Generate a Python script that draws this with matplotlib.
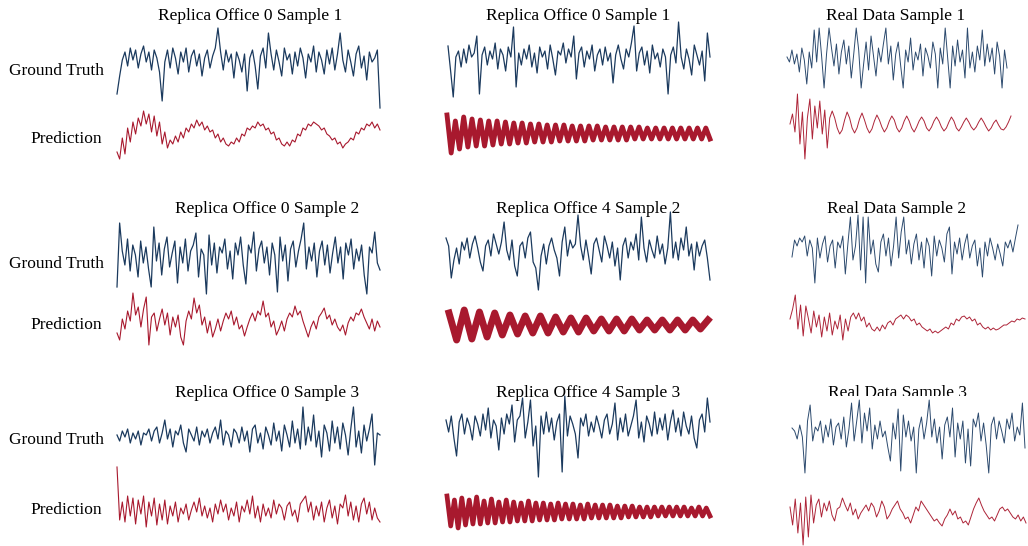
"""
Ground truth vs. predicted waveforms for replica office and real recordings.
"""
import matplotlib
matplotlib.use('Agg')
import matplotlib.pyplot as plt

c_strFont = 'Liberation Serif'
c_strTruthColor = '#1b3a5e'
c_strPredColor = '#a8192e'

lstTitles = [['Replica Office 0 Sample 1', 'Replica Office 0 Sample 1', 'Real Data Sample 1'],
             ['Replica Office 0 Sample 2', 'Replica Office 4 Sample 2', 'Real Data Sample 2'],
             ['Replica Office 0 Sample 3', 'Replica Office 4 Sample 3', 'Real Data Sample 3']]
lstRowLabels = ['Ground Truth', 'Prediction']

# signal values, one list per trace (row 1..3, column 1..3)
lstTruth11 = [-30, -12, 4, 12, -2, 16, 4, 14, -4, 10, 18, 2, 12, -6, 14, 6, -8, -37, 2, 14, -4, 16, 6, -10, 12,
              2, 16, -8, 8, 14, -2, 10, -12, 6, 14, -4, 8, 16, 36, 12, -6, 14, 2, 10, -14, 12, 4, -8, 10, -27,
              6, 14, -2, -25, 8, 16, -4, 31, 10, -6, 14, 2, -12, 16, 4, 10, -10, 12, -2, 16, 6, -14, 10, 2, 18,
              -8, 12, 4, -10, 14, 0, 16, -6, 10, 31, 4, -8, 14, 2, -12, 10, 18, -4, 8, -16, 12, 2, 6, 14, -44]
lstPred11 = [-18, -25, -4, -20, 6, -8, 12, 0, 16, 8, 23, 10, 20, 2, 18, -2, 12, -10, 2, -14, -6, -10, -2, -8, 2,
             -4, 6, 2, 10, 6, 14, 8, 12, 4, 8, 2, 4, -4, 0, -8, -4, -10, -12, -8, -10, -4, -8, 0, -2, 6,
             4, 8, 6, 12, 8, 10, 4, 6, 0, 2, -6, -4, -10, -12, -8, -12, -6, -8, 0, -2, 6, 4, 10, 8, 12,
             10, 8, 4, 6, 0, -2, -6, -4, -10, -8, -14, -10, -8, -4, -6, 2, 0, 6, 4, 10, 8, 12, 6, 10, 4]
lstTruth12 = [15, -10, -36, 4, 10, -6, 12, -2, 16, 4, 8, 25, -33, 6, 14, -4, 10, 2, 18, -8, 12, 6, -10, 14, 4,
              34, -26, 8, -4, 12, 2, 16, -6, 8, -12, 14, 4, 10, -8, 16, 2, -14, 10, 6, 18, -2, 12, 4, 25, -18,
              8, 14, -6, 10, 2, 16, -10, 6, 12, -4, 14, 0, 8, -22, 6, 16, 2, -8, 12, 4, 18, 35, -10, 8, 14,
              -4, 10, -12, 16, 2, 8, -6, 12, 4, -33, 6, 14, -2, 39, 4, -8, 12, 2, -14, 16, 6, -4, 10, -20, 28, 4]
lstPred12 = [19, -19, 13, -15, 17, -13, 15, -12, 14, -12, 13, -11, 13, -10, 12, -10, 11, -9, 11, -9, 10, -8,
             10, -8, 9, -8, 9, -7, 9, -7, 8, -7, 8, -7, 8, -6, 8, -6, 7, -6, 7, -6, 7, -6, 7, -5, 7, -5,
             6, -5, 6, -5, 6, -5, 6, -5, 6, -5, 6, -5, 6, -5, 6, -5]
lstTruth13 = [1, -4, 8, -6, 4, -14, 10, -2, -26, 6, -10, 28, -4, 30, 2, -30, 4, 30, 10, -8, 14, -16, 6, 18, -6,
              12, -20, 4, 30, 8, -30, -6, 16, -12, 22, 2, -18, 10, -4, 14, 30, -6, 12, -22, 4, 16, -8, -30, 8,
              -4, 20, -12, 6, -2, 14, -18, 10, 2, -10, 16, 4, -30, 10, -6, 30, 0, -30, 12, -8, 18, -4, 8, -20,
              30, -10, 6, -14, 12, -2, 28, -8, 14, -4, 10, -16, 16, 2, -30, 8, -10]
lstPred13 = [0, 10, -8, 30, -20, 12, -35, 6, 25, -15, 18, -4, 23, -10, 14, -24, 6,
             13, 6, -4, -10, -6, 4, 12, 6, -4, -9, -4, 5, 11, 4, -4, -9, -5, 3, 9, 4, -3, -8, -4, 3,
             8, 4, -4, -8, -4, 3, 8, 3, -4, -8, -3, 3, 7, 3, -4, -7, -3, 3, 7, 3, -3, -7, -4, 2,
             7, 3, -4, -7, -3, 2, 6, 2, -3, -6, -3, 2, 6, 2, -3, -7, -4, 1, 4, -1, -5, -6, -3, 2, 8]

lstTruth21 = [-30, 34, 6, -8, 18, -14, 12, 2, -20, 16, -6, 10, -12, -30, 30, -4, 14, -18, 8, 20, -10, 4, 16, -26,
              10, -6, 18, -14, 6, 12, 24, -20, 8, 2, -37, 22, -8, 14, -16, 10, 4, 18, -12, 6, -22, 14, 2, 20, -8,
              -27, 12, 4, 25, -14, 8, 16, -6, 10, -18, 14, 2, -35, 20, -4, 12, -24, 8, 16, -10, 6, 18, 34, -12,
              10, -4, 14, -20, 6, 16, -8, 12, -16, 4, 20, -6, 10, -22, 14, 2, 18, -12, 8, -4, 12, -18, -37, 10,
              4, 25, -6, -13]
lstPred21 = [-10, -17, 4, -6, 12, 2, 30, 8, 16, -4, 14, 26, -22, 6, 10, -8, 4, 14, -2, 10, -12, 6, -4, 8, -14,
             -22, 2, 12, 4, 25, 10, 18, -2, 6, -10, 2, -14, -6, 4, -8, 2, 10, 4, 12, -2, 6, -6, -2, -13, -4,
             4, 10, 2, 12, 8, 22, 6, 10, -4, 2, -12, -6, 2, -8, 4, 10, 6, 17, 8, 12, 2, -6, -14, -4, 2,
             -6, 6, 10, 15, 4, 8, -2, 4, -4, -8, -2, -12, 0, 6, 2, 10, 8, 14, 6, 0, -6, 4, -8, 2, -4]
lstTruth22 = [14, 6, -26, -8, 4, -12, 10, 2, 14, -6, 8, 16, 4, -10, -19, 6, 12, -4, 18, 8, -2, 10, 30, 2, -8,
              12, -14, -24, 6, 10, -6, 14, 20, -10, -16, -38, -4, 8, -12, 6, 14, 2, -6, -24, 10, 25, -4, 12, 4,
              8, 37, 6, -8, 12, -4, -22, 8, 14, 2, -10, 16, 6, -6, 10, -14, 4, -28, 6, 14, -6, 10, 2, 18, -8,
              35, 4, -10, 12, 2, -6, 16, -2, 8, -12, 4, 40, -6, 10, -8, 14, 2, 25, -4, 8, -18, 10, -4, 6, 12,
              -6, -28]
lstPred22 = [12, -15, 15, -14, 13, -12, 12, -10, 10, -9, 9, -8, 9, -8, 8, -7, 7, -7, 7, -6, 6, -6, 6,
             -6, 6, -5, 5, -5, 5, -5, 5, -5, 5, -4, 5]
lstTruth23 = [-7, 10, 4, 12, 8, 14, -6, 10, 2, -33, 12, -8, 6, 14, -12, 4, 10, -18, 8, 2, 14, -24, 6, 33, -10,
              4, 35, -20, 33, -33, 33, -4, 10, -14, -22, 8, 16, -6, 12, -16, 4, 33, -8, 18, 33, -4, 10, -14, 6,
              16, -10, 8, -18, 12, 4, -26, 14, -6, 10, 2, -12, 16, 23, -24, 8, -4, 12, -10, 6, 16, -8, 4, 10,
              -16, 2, -27, 8, -6, 12, 2, -10, 6, -4, -16, 8, 2, 10, -2, 12, 25]
lstPred23 = [4, 14, 28, -6, 18, -13, 17, 4, -10, 12, -4, 8, -14, 6, -8, 10, -12, 2, -6, 8, -17, 4, -8, 6, 10,
             4, 10, 2, 6, -4, 0, -6, -8, -4, -8, -2, -6, 0, 2, -2, 4, 6, 8, 4, 8, 6, 2, 4, -2, 0,
             -4, -6, -8, -6, -10, -8, -10, -8, -6, -4, -6, 0, -2, 4, 2, 6, 7, 4, 6, 2, 4, -2, 0, -4, -6,
             -4, -7, -5, -7, -6, -4, -2, -2, 0, 2, 1, 4, 3, 5, 4]

lstTruth31 = [2, -4, 6, 0, 8, -6, 4, -2, 6, -8, 4, 2, 8, -4, 6, 10, -6, 4, 17, -2, 8, -10, 6, 2, 12, -6, -15, 8,
              2, -4, 10, -8, 6, 0, 8, -6, 4, 10, -2, 17, -8, 6, 2, -10, 8, 4, -6, 10, -4, 6, -15, 8, 12, -6, 4,
              -12, 10, 2, -8, 14, -4, 6, -14, 12, 2, -10, 16, -6, 8, -12, 30, -8, 10, -4, 22, -10, 6, -20, 12,
              4, -14, 16, -6, 10, -12, 14, 2, -18, 8, 30, -10, 6, -16, 12, -4, 8, 23, -28, 4, 2]
lstPred31 = [43, -10, 8, -12, 14, -6, 12, -14, 10, -4, 14, -17, 8, -6, 12, -15, 6, -10, 10, -14, 4, -6, 8, -12,
             2, -4, 6, -10, 0, 8, -2, 12, -6, 4, -8, 2, -12, 6, -4, 10, -2, 6, -10, 2, -6, 8, -12, 4, -2, 10,
             -4, 14, -8, 4, -12, 6, -6, 2, -8, 10, -4, 6, 2, -10, 4, 8, -6, 0, -12, 6, 10, 14, -2, 8, -10,
             4, -6, 8, -12, 2, 10, -8, 4, -14, 6, 2, 15, -6, 8, -10, 4, -12, 6, 12, -4, 8, -10, 2, -8, -12]
lstTruth32 = [8, -4, 12, -10, -28, 6, 14, -6, 10, 2, -12, 12, 4, -8, 14, -2, 20, -10, 8, 2, -22, 10, -6, 14, 4,
              23, -14, 8, 12, 30, -10, 6, 28, -18, 2, -49, 12, -6, 16, -4, 10, -12, 6, 14, -44, 32, -8, 12, 4,
              -6, -30, 10, 2, 14, -8, 6, -4, 12, 2, -10, 8, 14, -6, 4, 25, -12, 10, -4, 14, -8, 2, 12, 28, -10,
              6, -14, 12, 4, -8, 16, -6, 10, -2, 14, -12, 6, 18, -4, 10, -8, 16, 2, -6, 12, -10, -20, 8, 14,
              -4, 30, 6]
lstPred32 = [16, -14, 12, -16, 14, -13, 12, -12, 15, -12, 11, -11, 13, -11, 10, -10, 12, -10, 10, -9, 9, -9,
             11, -9, 9, -8, 9, -8, 8, -8, 9, -7, 8, -7, 8, -7, 7, -7, 8, -6, 7, -6, 7, -6, 7, -6, 6, -6,
             6, -5, 6, -5, 5, -5, 5, -5, 5, -4, 5, -4, 5, -4, 5, -4, 5, -4, 4, -4, 5, -4, 4, -4]
lstTruth33 = [5, 2, -6, 8, -4, -40, 12, 28, -8, 6, 2, 12, -10, 8, -4, 14, -12, 6, 10, -6, 16, -14, 4, 30, -8,
              12, 33, -10, 20, 2, 25, -16, 8, -6, 12, -4, 2, -14, -28, 10, -6, 24, -38, 18, -4, 12, -8, 6, -40,
              4, 16, -6, 10, 33, -4, 14, -10, 6, -26, 8, 16, -4, 25, -24, 10, -6, 12, -30, 4, -33, 14, 6, 20,
              -8, 10, -12, -40, 8, 16, -6, 12, 2, -10, 14, 4, 20, -8, 6, -2, 30, -15]
lstPred33 = [6, -12, 14, -20, 10, -32, 16, -24, 18, -10, 8, 14, -4, 10, 2, 12, -2, -8, 4, 6, 15, 8, 2, 10, -2,
             4, -6, 0, 4, 8, 2, 10, 6, -4, 2, 12, 6, -6, -2, 4, 8, 12, 4, 0, -6, -4, -10, -2, 6, 2,
             12, 8, 4, 0, -4, -8, -6, -10, -13, -6, -2, 4, -2, 2, -6, -4, -10, -8, -12, -4, 4, 10, 15, 8, 2,
             -2, -6, -4, -8, -2, 4, 6, 2, 4, 0, -4, -6, -2, -8, -4, -10]

c_nWidth, c_nHeight = 1028, 546


def pixelAxes(fig, x0, x1, yc, top=None, bottom=None, face='none'):
    # axes placed in pixel coordinates, one data unit == one pixel vertically
    if top is None:
        top = yc - 55
    if bottom is None:
        bottom = yc + 55
    ax = fig.add_axes([x0 / c_nWidth, 1 - bottom / c_nHeight,
                       (x1 - x0) / c_nWidth, (bottom - top) / c_nHeight])
    ax.set_facecolor(face)
    ax.set_xticks([])
    ax.set_yticks([])
    for spine in ax.spines.values():
        spine.set_visible(False)
    ax.set_ylim(-(bottom - yc), yc - top)
    return ax


def drawTrace(ax, lstValues, strColor, fWidth):
    lstX = list(range(len(lstValues)))
    ax.plot(lstX, lstValues, color=strColor, lw=fWidth, clip_on=False, solid_joinstyle='round')
    ax.set_xlim(0, len(lstValues) - 1)


def main():
    fig = plt.figure(figsize=(c_nWidth / 100, c_nHeight / 100), dpi=100)

    # (values, color, width, x0, x1, yc, top)
    lstTraces = [
        (lstTruth11, c_strTruthColor, 0.9, 117, 380, 64, None),
        (lstPred11, c_strPredColor, 0.8, 117, 380, 134, None),
        (lstTruth12, c_strTruthColor, 0.9, 448, 710, 61, None),
        (lstPred12, c_strPredColor, 3.5, 447, 710, 134, None),
        (lstTruth13, '#2c4a6e', 0.7, 787, 1007, 58, None),
        (lstPred13, '#ad2438', 0.7, 790, 1011, 124, None),
        (lstTruth21, c_strTruthColor, 0.9, 117, 380, 257, None),
        (lstPred21, c_strPredColor, 0.8, 117, 380, 323, None),
        (lstTruth22, c_strTruthColor, 0.9, 446, 710, 252, None),
        (lstPred22, c_strPredColor, 5.0, 449, 708, 325, None),
        (lstTruth23, '#2c4a6e', 0.7, 792, 1018, 250, 214),
        (lstPred23, '#ad2438', 0.7, 790, 1025, 323, None),
        (lstTruth31, c_strTruthColor, 0.9, 117, 380, 437, None),
        (lstPred31, c_strPredColor, 0.8, 117, 380, 510, None),
        (lstTruth32, c_strTruthColor, 0.9, 446, 710, 428, None),
        (lstPred32, c_strPredColor, 3.4, 447, 710, 512, None),
        (lstTruth33, '#2c4a6e', 0.7, 792, 1025, 433, 396),
        (lstPred33, '#ad2438', 0.7, 790, 1026, 513, None),
    ]
    for (lstValues, strColor, fWidth, x0, x1, yc, top) in lstTraces:
        strFace = 'white' if top is not None else 'none'
        ax = pixelAxes(fig, x0, x1, yc, top=top, face=strFace)
        drawTrace(ax, lstValues, strColor, fWidth)

    # panel titles (drawn underneath the axes so a white panel can cover them)
    lstTitleX = [[250, 578, 896], [267, 588, 897], [267, 588, 897]]
    lstTitleY = [20, 213, 397]
    for nRow in range(3):
        for nCol in range(3):
            fig.text(lstTitleX[nRow][nCol] / c_nWidth, 1 - lstTitleY[nRow] / c_nHeight,
                     lstTitles[nRow][nCol], ha='center', va='baseline', fontsize=12.5,
                     family=c_strFont, zorder=-1)

    # row labels on the left column only
    lstLabelY = [(75, 143), (268, 329), (444, 514)]
    for (nTruthY, nPredY) in lstLabelY:
        fig.text(104 / c_nWidth, 1 - nTruthY / c_nHeight, lstRowLabels[0], ha='right',
                 va='baseline', fontsize=12.5, family=c_strFont)
        fig.text(102 / c_nWidth, 1 - nPredY / c_nHeight, lstRowLabels[1], ha='right',
                 va='baseline', fontsize=12.5, family=c_strFont)

    fig.savefig('out.png', dpi=100, facecolor='white')


if __name__ == '__main__':
    main()
